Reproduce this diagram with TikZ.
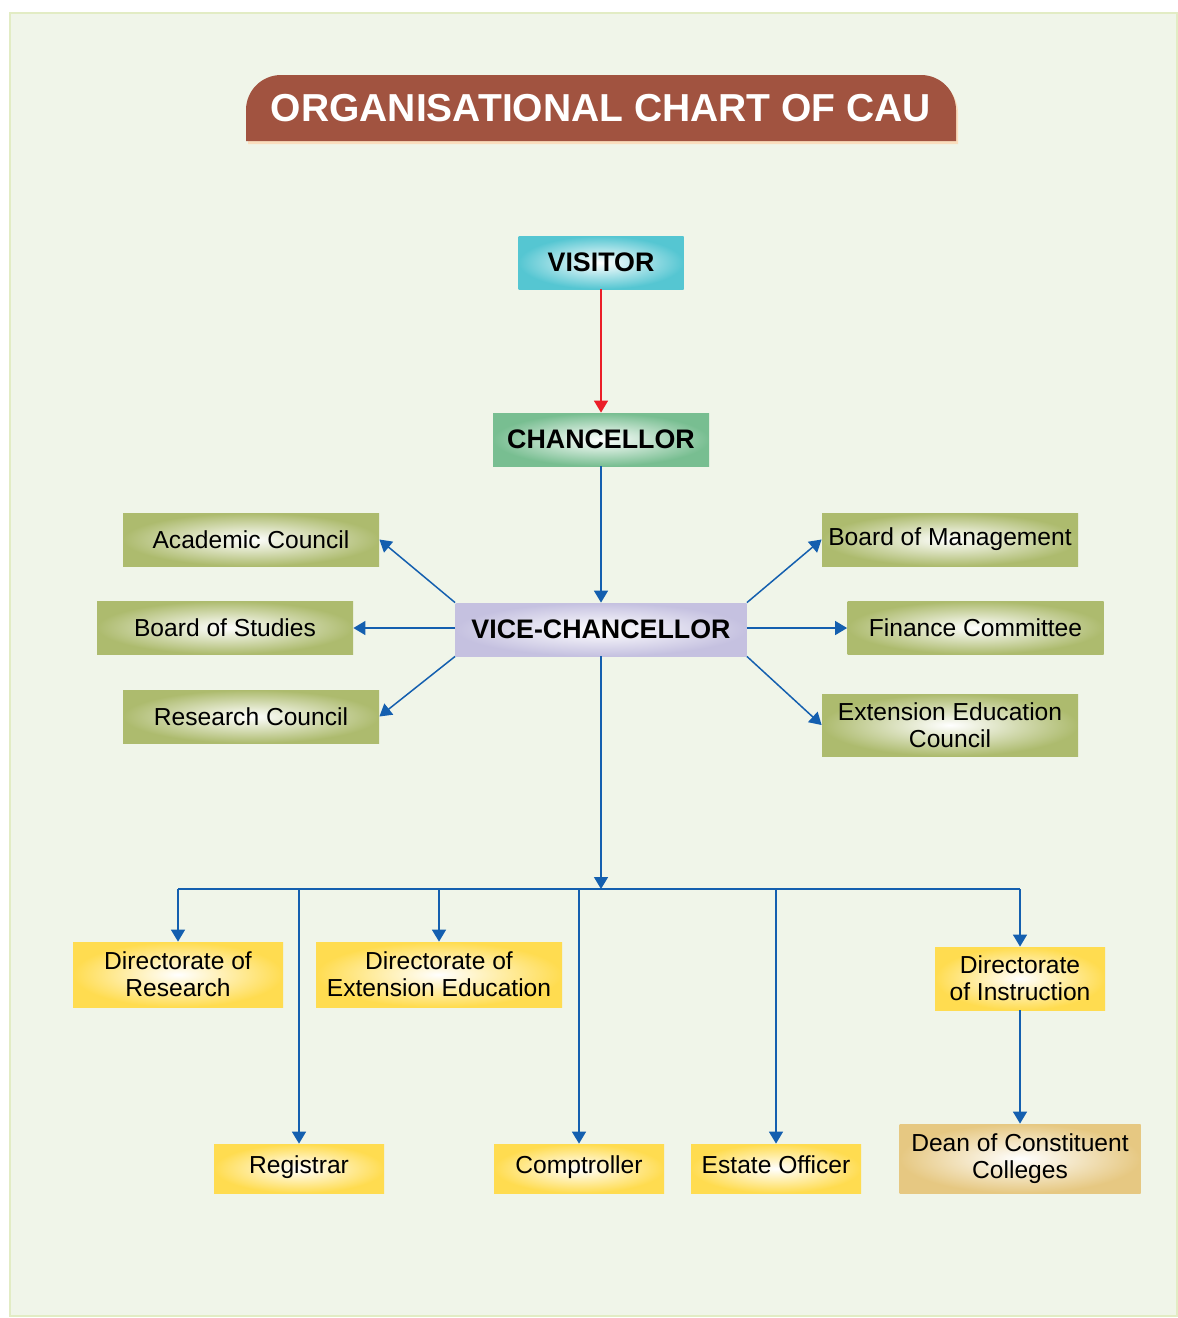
\documentclass[tikz,border=0pt]{standalone}
\usepackage{fontspec}
\setmainfont{Liberation Sans}
\usepackage{tikz}
\usetikzlibrary{arrows.meta}

\definecolor{panelbg}{RGB}{240,245,233}
\definecolor{paneledge}{RGB}{226,236,196}
\definecolor{titlebrown}{RGB}{161,83,64}
\definecolor{titleshade}{RGB}{250,222,190}
\definecolor{visitorcyan}{RGB}{85,198,210}
\definecolor{chancgreen}{RGB}{120,190,145}
\definecolor{vclilac}{RGB}{197,193,224}
\definecolor{boardolive}{RGB}{173,187,110}
\definecolor{unityellow}{RGB}{255,220,80}
\definecolor{deantan}{RGB}{230,200,130}
\definecolor{linkblue}{RGB}{20,95,175}
\definecolor{linkred}{RGB}{235,30,40}

\begin{document}
\begin{tikzpicture}[x=0.5pt, y=-0.5pt,
    box/.style={inner sep=0, align=center, inner color=white, font=\fontsize{12.3}{13.5}\selectfont},
    head/.style={box, minimum height=26.5pt, font=\bfseries\fontsize{13.4}{15}\selectfont},
    council/.style={box, outer color=boardolive, minimum width=128pt, minimum height=26.5pt},
    unit/.style={box, outer color=unityellow},
    officer/.style={unit, minimum width=85pt, minimum height=24.5pt, text height=0.72em, text depth=0.21em},
    link/.style={draw=linkblue, line width=0.75pt, -{Triangle[length=6pt,width=7pt]}}]
    \useasboundingbox (0,0) rectangle (1178,1318);
    \fill[white] (0,0) rectangle (1178,1318);
    \draw[fill=panelbg, draw=paneledge, line width=1pt] (9.5,12.5) rectangle (1177,1316);

    % title banner
    \fill[titleshade, shift={(2,3)}] (246,141) -- (246,110) arc[start angle=180, end angle=270, radius=35]
        -- (921,75) arc[start angle=270, end angle=360, radius=35] -- (956,141) -- cycle;
    \fill[titlebrown] (246,141) -- (246,110) arc[start angle=180, end angle=270, radius=35]
        -- (921,75) arc[start angle=270, end angle=360, radius=35] -- (956,141) -- cycle;
    \node[text=white, font=\bfseries\fontsize{19.5}{22}\selectfont] (ttl) at (601,108) {ORGANISATIONAL CHART OF CAU};

    % top of the chart
    \node[head, outer color=visitorcyan, minimum width=82.5pt] (vis) at (601,262.5) {VISITOR};
    \node[head, outer color=chancgreen, minimum width=108pt] (chn) at (601,439.5) {CHANCELLOR};
    \node[head, outer color=vclilac, minimum width=145.5pt] (vc) at (601,629.5) {VICE-CHANCELLOR};

    % councils and boards
    \node[council] (ac) at (251,539.5) {Academic Council};
    \node[council] (bs) at (225,627.5) {Board of Studies};
    \node[council] (rc) at (251,716.5) {Research Council};
    \node[council] (bm) at (950,539.5) {Board of Management};
    \node[council] (fc) at (975.5,627.5) {Finance Committee};
    \node[council, minimum height=31pt] (ee) at (950,725) {Extension Education\\Council};

    % directorates and officers
    \node[unit, minimum width=105pt, minimum height=32.5pt] (dr) at (178,974.5) {Directorate of\\Research};
    \node[unit, minimum width=123pt, minimum height=32.5pt] (dx) at (439,974.5) {Directorate of\\Extension Education};
    \node[unit, minimum width=85pt, minimum height=31.5pt] (di) at (1020,978.5) {Directorate\\of Instruction};
    \node[officer] (reg) at (299,1168.5) {Registrar};
    \node[officer] (cmp) at (579,1168.5) {Comptroller};
    \node[officer] (est) at (776,1168.5) {Estate Officer};
    \node[box, outer color=deantan, minimum width=120.5pt, minimum height=34.5pt] (dn) at (1020,1158.5) {Dean of Constituent\\Colleges};

    \draw[link, draw=linkred] (vis) -- (chn);
    \draw[link] (chn) -- (vc);
    \draw[link] (vc.north west) -- (ac.east);
    \draw[link] (vc.west) ++(0,-1.5) coordinate (vcw) -- (vcw -| bs.east);
    \draw[link] (vc.south west) -- (rc.east);
    \draw[link] (vc.north east) -- (bm.west);
    \draw[link] (vc.east) ++(0,-1.5) coordinate (vce) -- (vce -| fc.west);
    \draw[link] (vc.south east) -- (ee.west);

    \coordinate (bus) at (601,889);
    \draw[link] (vc.south) -- (bus);
    \draw[linkblue, line width=0.75pt] (dr.north |- bus) -- (di.north |- bus);
    \foreach \n in {dr,reg,dx,cmp,est,di}
        \draw[link] (\n.north |- bus) -- (\n.north);
    \draw[link] (di) -- (dn);
\end{tikzpicture}
\end{document}
